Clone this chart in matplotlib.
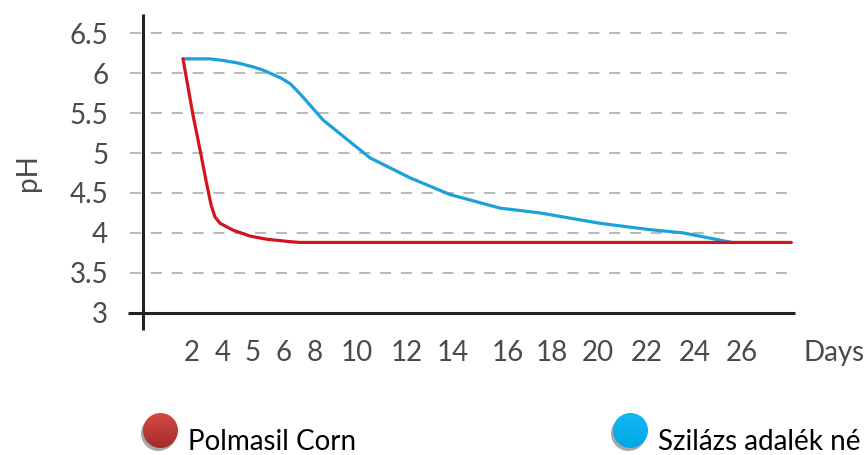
import numpy as np
import matplotlib
matplotlib.use('Agg')
import matplotlib.pyplot as plt
from matplotlib.patches import Circle
from matplotlib.transforms import blended_transform_factory

plt.rcParams['lines.scale_dashes'] = False

# data
tick_days = [2, 4, 5, 6, 8, 10, 12, 14, 16, 18, 20, 22, 24, 26]
tick_labels = ['2', '4', '5', '6', '8', '10', '12', '14', '16', '18', '20', '22', '24', '26']
y_ticks = [3, 3.5, 4, 4.5, 5, 5.5, 6, 6.5]
y_labels = ['3', '3.5', '4', '4.5', '5', '5.5', '6', '6.5']

red_days = [1.42, 2.06, 2.52, 2.9, 3.23, 3.48, 3.81, 4.33, 4.9, 5.45, 6.39, 7.03, 28.1]
red_ph = [6.18, 5.48, 5.04, 4.66, 4.35, 4.20, 4.12, 4.035, 3.96, 3.92, 3.89, 3.88, 3.88]

blue_days = [1.42, 3.16, 4.0, 4.47, 5.0, 5.32, 5.9, 6.39, 6.8, 7.23, 8.38, 9.67, 10.52,
             12.13, 13.87, 15.71, 17.45, 20.08, 22.13, 23.5, 25.57]
blue_ph = [6.18, 6.18, 6.16, 6.13, 6.08, 6.04, 5.94, 5.87, 5.79, 5.70, 5.415, 5.14, 4.94,
           4.69, 4.48, 4.31, 4.25, 4.12, 4.04, 4.0, 3.88]

# second name is cut by the image edge in the original
legend_names = ['Polmasil Corn', 'Szilázs adalék né']
red = '#d4151d'
blue = '#1ca1da'

# layout: irregular label positions of the original (pixel-like axis units)
tick_x = [192, 223, 253, 284, 315, 357, 407, 453, 508, 552, 598, 647, 695, 742]


def day_to_x(d):
    d = np.asarray(d, float)
    x = np.interp(d, tick_days, tick_x)
    lo = d < tick_days[0]
    x[lo] = tick_x[0] - (tick_days[0] - d[lo]) * (tick_x[1] - tick_x[0]) / (tick_days[1] - tick_days[0])
    hi = d > tick_days[-1]
    x[hi] = tick_x[-1] + (d[hi] - tick_days[-1]) * (tick_x[-1] - tick_x[-2]) / (tick_days[-1] - tick_days[-2])
    return x


W, H = 866, 455
fig = plt.figure(figsize=(W / 100, H / 100), dpi=100)
ax = fig.add_axes([143 / W, (H - 312.7) / H, (795 - 143) / W, (312.7 - 14) / H])
ax.set_xlim(143, 795)
ax.set_ylim(3, 6.742)
for s in ax.spines.values():
    s.set_visible(False)

font = dict(family=['Lato', 'DejaVu Sans'], color='#4a4a4a')

# grid lines
trans = blended_transform_factory(ax.transAxes, ax.transData)
for v in y_ticks[1:]:
    ax.plot([-0.02, 1], [v, v], transform=trans, color='#b3b3b3', lw=1.3,
            dashes=(8, 7), clip_on=False, zorder=1)

# axis lines
ax.plot([0, 0], [-0.058, 1], transform=ax.transAxes, color='#222222', lw=2.2,
        clip_on=False, zorder=3, solid_capstyle='butt')
ax.plot([-0.023, 1], [0, 0], transform=ax.transAxes, color='#222222', lw=2.2,
        clip_on=False, zorder=3, solid_capstyle='butt')

ax.plot(day_to_x(blue_days), blue_ph, color=blue, lw=2.3, zorder=4,
        solid_capstyle='round', solid_joinstyle='round')
ax.plot(day_to_x(red_days), red_ph, color=red, lw=2.3, zorder=5,
        solid_capstyle='round', solid_joinstyle='round')

ax.set_yticks(y_ticks)
ax.set_yticklabels(y_labels, fontsize=20, **font)
ax.set_xticks(tick_x)
ax.set_xticklabels(tick_labels, fontsize=20, **font)
ax.tick_params(axis='y', length=0, pad=25)
ax.tick_params(axis='x', length=0, pad=20)

ax.text(803, -0.093, 'Days', transform=blended_transform_factory(ax.transData, ax.transAxes),
        ha='left', va='top', fontsize=20, clip_on=False, **font)
fig.text(28 / W, 1 - 173 / H, 'pH', rotation=90, ha='center', va='center', fontsize=20, **font)

# legend with ball markers
lg = fig.add_axes([0, 0, 1, 1])
lg.set_xlim(0, W)
lg.set_ylim(H, 0)
lg.axis('off')
balls = [(160.5, 430.5, '#d54a45', '#a42a2a'), (630.5, 430.5, '#14b6f2', '#00a8e8')]
for (cx, cy, c_top, c_bot), name in zip(balls, legend_names):
    r = 17.5
    lg.add_patch(Circle((cx - 2, cy + 3), r, color='#a8a8a8', lw=0, zorder=1))
    circ = Circle((cx, cy), r, transform=lg.transData, fc='none', ec='none')
    lg.add_patch(circ)
    t = np.linspace(0, 1, 64)[:, None]
    c1 = np.array(matplotlib.colors.to_rgb(c_top))
    c2 = np.array(matplotlib.colors.to_rgb(c_bot))
    grad = (c1 * (1 - t) + c2 * t)[:, None, :] * np.ones((1, 2, 1))
    im = lg.imshow(grad, extent=[cx - r, cx + r, cy + r, cy - r], aspect='auto',
                   interpolation='bilinear', zorder=2)
    im.set_clip_path(circ)
    lg.text(cx + 27, 450, name, ha='left', va='baseline', fontsize=20,
            family=['Lato', 'DejaVu Sans'], color='black')
lg.set_xlim(0, W)
lg.set_ylim(H, 0)

fig.savefig('out.png', dpi=100)
